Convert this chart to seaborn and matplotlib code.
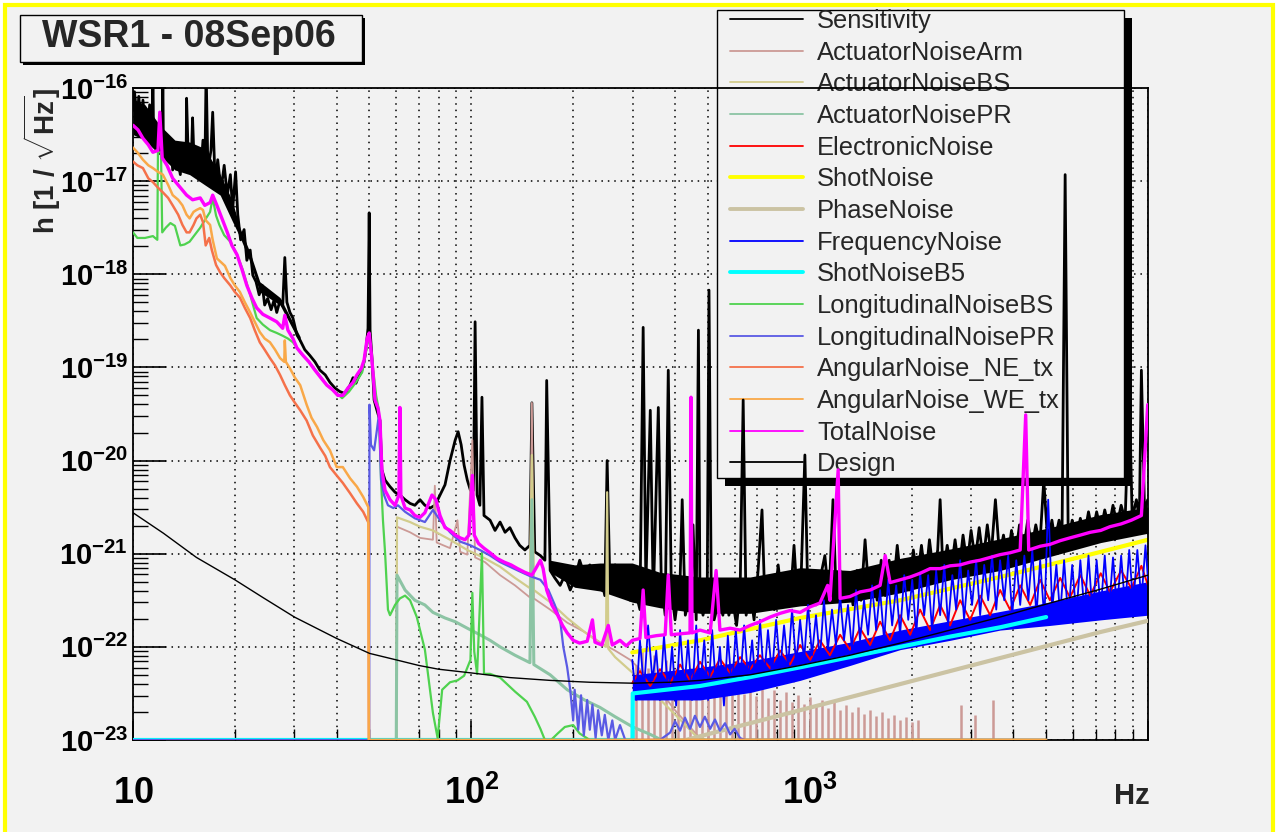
import numpy as np
import pandas as pd
import matplotlib
matplotlib.use("Agg")
import matplotlib.pyplot as plt
import seaborn as sns
from matplotlib.lines import Line2D
from matplotlib.patches import Rectangle
from matplotlib.ticker import FixedLocator, FixedFormatter, LogLocator, NullFormatter

# ---------------------------------------------------------------------------
# Spectra: (frequency [Hz], log10 of strain amplitude [1/sqrt(Hz)])
# ---------------------------------------------------------------------------
sensitivity = [
    (10.0,-16.24),(10.1,-16.04),(10.3,-16.34),(10.4,-16.09),(10.6,-16.50),(10.7,-16.13),(10.85,-16.40),
    (11.0,-16.56),(11.2,-16.18),(11.4,-16.45),(11.45,-15.8),(11.5,-16.50),(11.8,-16.67),(12.0,-16.34),
    (12.2,-16.67),(12.25,-15.8),(12.3,-16.67),(12.6,-16.77),(12.9,-16.56),(13.1,-16.88),(13.4,-16.67),
    (13.8,-16.93),(14.0,-16.61),(14.35,-16.83),(14.4,-16.11),(14.6,-16.88),(14.9,-16.67),(15.0,-16.32),
    (15.2,-16.93),(15.5,-16.72),(15.8,-16.99),(16.1,-16.56),(16.3,-16.93),(16.45,-15.8),(16.65,-16.88),
    (17.0,-16.67),(17.2,-16.26),(17.5,-17.04),(17.8,-16.77),(18.2,-17.10),(18.6,-16.83),(19.0,-17.15),
    (19.4,-16.93),(19.7,-17.31),(20.1,-16.90),(20.4,-17.36),(20.8,-17.63),(21.3,-17.52),(21.7,-17.85),
    (22.2,-17.74),(22.6,-18.01),(23.1,-18.08),(23.6,-18.22),(24.1,-18.12),(24.5,-18.33),(25.0,-18.26),
    (25.6,-18.38),(26.1,-18.28),(26.6,-18.41),(27.2,-18.28),(27.7,-18.34),(28.1,-17.82),(28.5,-18.30),
    (29.1,-18.41),(29.7,-18.47),(30.5,-18.65),(31.2,-18.71),(32.2,-18.81),(33.3,-18.87),(34.5,-18.94),
    (35.7,-19.03),(37.0,-19.08),(38.2,-19.16),(39.5,-19.22),(40.9,-19.26),(42.3,-19.28),(43.8,-19.19),
    (44.7,-19.11),(45.6,-19.17),(46.3,-19.11),(47.3,-19.05),(48.2,-18.94),(48.8,-18.81),(49.5,-18.58),
    (49.9,-17.34),(50.2,-18.60),(50.9,-18.92),(51.6,-19.35),(52.6,-19.46),(53.7,-19.57),(54.4,-20.10),
    (55.6,-20.21),(57.5,-20.28),(59.5,-20.34),(61.5,-20.37),(63.7,-20.42),(65.9,-20.46),(68.1,-20.48),
    (70.5,-20.42),(72.9,-20.48),(75.5,-20.51),(78.1,-20.48),(80.8,-20.37),(83.6,-20.26),(86.5,-20.00),
    (89.6,-19.78),(91.4,-19.69),(93.3,-19.83),(95.2,-20.05),(97.3,-20.21),(99.4,-20.32),(101.5,-20.32),
    (102.6,-18.51),(104,-20.37),(106,-20.48),(107.5,-19.32),(109,-20.59),(113.6,-20.64),(117.5,-20.75),
    (121.6,-20.66),(125.8,-20.77),(130,-20.72),(134.6,-20.83),(139,-20.91),(144,-20.96),(149,-20.91),
    (151,-19.38),(154,-20.98),(160,-21.02),(165,-21.07),(167,-19.14),(171,-21.18),(176.5,-21.26),
    (183,-21.34),(189,-21.23),(196,-21.39),(202,-21.28),(209,-21.07),(216,-21.23),(224,-21.12),
    (232,-21.34),(240,-21.18),(248,-21.45),(252,-20.00),(257,-21.39),(266,-21.12),(275,-21.45),
    (285,-21.23),(295,-21.50),(305,-21.39),(315,-21.60),(322,-18.57),(328,-21.34),(338,-19.46),
    (345,-21.50),(357,-19.43),(364,-21.23),(374,-21.66),(382,-19.03),(390,-21.39),(400,-21.71),
    (414,-21.28),(420,-20.42),(429,-21.66),(443,-21.45),(452,-20.69),(462,-21.71),(469,-18.60),
    (474,-21.50),(484,-21.66),(498,-21.39),(504,-18.17),(512,-21.50),(522,-21.71),(539,-21.50),
    (554,-21.66),(565,-21.45),(577,-21.66),(592,-21.50),(608,-21.77),(623,-21.39),(636,-19.35),
    (649,-21.66),(667,-21.39),(685,-21.71),(704,-21.18),(723,-20.53),(737,-21.50),(764,-21.34),
    (786,-21.60),(807,-21.12),(829,-21.50),(852,-21.23),(875,-21.55),(899,-20.91),(918,-21.45),
    (943,-21.28),(968,-19.94),(988,-21.50),(1016,-21.18),(1044,-21.55),(1072,-21.28),(1109,-21.02),
    (1140,-21.50),(1172,-20.42),(1196,-21.39),(1230,-21.18),(1272,-21.50),(1306,-21.23),(1343,-21.55),
    (1380,-21.18),(1418,-21.50),(1458,-20.85),(1498,-21.45),(1540,-21.23),(1583,-21.50),(1627,-21.07),
    (1672,-21.45),(1718,-21.07),(1766,-21.39),(1815,-20.91),(1866,-21.34),(1917,-21.07),(1970,-21.39),
    (2025,-20.96),(2080,-21.28),(2140,-20.91),(2200,-21.28),(2260,-20.85),(2325,-21.23),(2390,-20.96),
    (2430,-20.42),(2480,-21.23),(2550,-20.91),(2620,-21.18),(2690,-20.85),(2765,-21.18),(2840,-20.80),
    (2920,-21.12),(3000,-20.75),(3085,-21.07),(3170,-20.72),(3260,-21.07),(3350,-20.69),(3440,-21.02),
    (3540,-20.42),(3640,-21.02),(3740,-20.80),(3845,-21.07),(3950,-20.75),(4060,-21.02),(4170,-20.69),
    (4290,-20.96),(4410,-20.64),(4530,-20.94),(4660,-20.69),(4790,-20.91),(4920,-20.21),(5060,-20.91),
    (5200,-20.64),(5310,-20.85),(5460,-20.64),(5570,-20.83),(5690,-16.93),(5810,-20.85),(5970,-20.64),
    (6140,-20.85),(6310,-20.62),(6490,-20.80),(6670,-20.55),(6860,-20.77),(7050,-20.55),(7250,-20.75),
    (7450,-20.53),(7660,-20.72),(7880,-20.48),(8100,-20.69),(8330,-20.48),(8560,-20.64),(8800,-19.24),
    (8980,-20.62),(9240,-20.42),(9430,-20.62),(9560,-19.03),(9770,-20.55),(9980,-20.42),
]
# spread of the dense sensitivity trace: (Hz, upper log10, lower log10)
sensitivity_spread_low = [
    (10,-16.12,-16.50),(10.85,-16.18,-16.56),(12.0,-16.40,-16.72),(13.3,-16.56,-16.88),
    (14.7,-16.58,-16.93),(16.3,-16.65,-17.04),(18.1,-16.93,-17.15),(19.6,-17.20,-17.42),
    (20.7,-17.50,-17.60),(22.2,-17.77,-17.87),(23.7,-18.08,-18.19),(27.2,-18.25,-18.33),
    (31.2,-18.67,-18.74),
]
sensitivity_spread_high = [
    (171,-21.07,-21.20),(202,-21.12,-21.36),(240,-21.10,-21.40),(299,-21.10,-21.52),(361,-21.20,-21.58),
    (474,-21.25,-21.64),(667,-21.25,-21.64),(937,-21.15,-21.56),(1315,-21.18,-21.52),(1850,-21.05,-21.42),
    (2600,-20.95,-21.28),(3655,-20.84,-21.18),(5130,-20.72,-21.03),(7250,-20.58,-20.88),(10000,-20.50,-20.78),
]

actuator_arm = [
    (10,-23.0),(60.0,-23.0),(60.3,-20.71),(65.9,-20.77),(70.5,-20.83),(77,-20.85),(78,-20.27),(79,-20.88),
    (86.5,-20.94),(91,-20.64),(92.7,-20.98),(97.3,-21.01),(100.7,-19.78),(102.6,-21.04),(109.7,-21.09),
    (121.6,-21.23),(134.6,-21.34),(149,-21.47),(151,-19.38),(153,-21.48),(171,-21.60),(192,-21.74),
    (216,-21.84),(240,-21.95),(266,-22.04),(295,-22.14),(315,-22.24),(340,-22.36),(370,-22.52),
    (400,-22.68),(440,-22.85),(480,-23.0),(5000,-23.0),
]
actuator_arm_lines = [
    (307,-22.19),(320,-22.03),(333,-22.23),(347,-22.09),(361,-22.27),(376,-22.14),(391,-22.31),(407,-22.18),
    (424,-22.36),(443,-22.23),(462,-22.40),(481,-22.27),(501,-22.44),(522,-22.31),(543,-22.46),(566,-22.36),
    (589,-22.49),(614,-22.40),(640,-22.51),(667,-22.42),(694,-22.53),(723,-22.44),(753,-22.55),(785,-22.46),
    (818,-22.57),(852,-22.49),(887,-22.59),(925,-22.52),(963,-22.61),(1004,-22.54),(1044,-22.64),(1088,-22.57),
    (1132,-22.66),(1180,-22.59),(1230,-22.68),(1281,-22.62),(1334,-22.70),(1390,-22.65),(1448,-22.72),
    (1509,-22.68),(1572,-22.74),(1638,-22.70),(1706,-22.76),(1777,-22.73),(1850,-22.79),(1928,-22.75),
    (2010,-22.81),(2093,-22.79),(2800,-22.62),(3085,-22.73),(3490,-22.57),
]
actuator_bs = [
    (10,-23.0),(60.0,-23.0),(60.3,-20.61),(65.9,-20.66),(70.5,-20.71),(77,-20.75),(86.5,-20.85),(97.3,-20.96),
    (109.7,-21.05),(121.6,-21.14),(134.6,-21.26),(149,-21.37),(151,-19.94),(153,-21.39),(171,-21.52),
    (192,-21.69),(216,-21.84),(240,-21.96),(250,-22.0),(252,-20.34),(254,-22.02),(266,-22.11),(300,-22.28),
    (338,-22.46),(374,-22.62),(414,-22.78),(459,-22.95),(494,-23.0),(5000,-23.0),
]
actuator_pr = [
    (10,-23.0),(60.0,-23.0),(60.3,-21.23),(63.7,-21.39),(68.1,-21.50),(72.9,-21.55),(77,-21.63),(83.6,-21.69),
    (89.6,-21.73),(97.3,-21.80),(106,-21.87),(113.6,-21.93),(121.6,-22.00),(134.6,-22.09),(149,-22.17),
    (151,-20.42),(153,-22.19),(171,-22.30),(192,-22.46),(216,-22.57),(240,-22.65),(266,-22.75),(300,-22.86),
    (338,-22.94),(365,-23.0),(5000,-23.0),
]
electronic = [
    (299,-22.39),(315,-22.26),(338,-22.42),(361,-22.24),(387,-22.39),(414,-22.19),(443,-22.36),(474,-22.16),
    (508,-22.32),(543,-22.13),(582,-22.28),(623,-22.11),(667,-22.24),(713,-22.09),(764,-22.23),(818,-22.04),
    (875,-22.19),(937,-21.98),(1004,-22.14),(1072,-21.93),(1148,-22.09),(1230,-21.87),(1315,-22.03),
    (1409,-21.80),(1509,-21.98),(1615,-21.73),(1729,-21.93),(1850,-21.66),(1982,-21.87),(2120,-21.60),
    (2270,-21.82),(2430,-21.55),(2600,-21.77),(2785,-21.50),(2980,-21.71),(3190,-21.45),(3415,-21.66),
    (3655,-21.39),(3910,-21.60),(4190,-21.34),(4485,-21.55),(4800,-21.28),(5130,-21.50),(5500,-21.26),
    (5880,-21.47),(6310,-21.23),(6750,-21.45),(7250,-21.21),(7720,-21.41),(8330,-21.18),(8930,-21.37),
    (9560,-21.13),(10000,-21.34),
]
shot = [(299,-22.06),(474,-21.93),(937,-21.69),(1850,-21.50),(3655,-21.25),(7250,-20.98),(10000,-20.85)]
phase = [(338,-23.10),(474,-22.96),(937,-22.68),(1850,-22.40),(3655,-22.12),(7250,-21.84),(10000,-21.72)]
frequency = [
    (299,-22.14),(307,-22.57),(315,-21.93),(324,-22.46),(333,-21.77),(343,-22.36),(352,-22.04),(361,-22.57),
    (371,-21.88),(382,-22.52),(392,-22.00),(403,-22.63),(414,-21.82),(426,-22.46),(437,-21.93),(449,-22.57),
    (462,-21.77),(474,-22.46),(488,-21.93),(501,-22.57),(515,-21.82),(529,-22.46),(543,-22.00),(558,-22.63),
    (573,-21.88),(589,-22.46),(605,-21.82),(623,-22.41),(640,-21.77),(658,-22.36),(676,-21.93),(694,-22.46),
    (713,-21.71),(733,-22.36),(753,-21.82),(774,-22.30),(796,-21.71),(818,-22.25),(840,-21.77),(863,-22.22),
    (887,-21.60),(912,-22.19),(937,-21.71),(963,-22.14),(989,-21.55),(1016,-22.09),(1044,-21.66),(1072,-22.14),
    (1102,-21.50),(1132,-22.03),(1164,-21.60),(1196,-21.98),(1230,-21.45),(1263,-21.93),(1298,-21.55),
    (1334,-22.03),(1371,-21.39),(1409,-21.93),(1448,-21.50),(1488,-21.87),(1529,-21.34),(1572,-21.82),
    (1615,-21.39),(1660,-21.93),(1706,-21.28),(1753,-21.77),(1802,-21.34),(1850,-21.87),(1903,-21.23),
    (1956,-21.71),(2010,-21.28),(2066,-21.87),(2120,-21.20),(2180,-21.66),(2240,-21.23),(2300,-21.82),
    (2365,-21.18),(2430,-21.66),(2500,-21.12),(2565,-21.77),(2640,-21.23),(2710,-21.60),(2785,-21.07),
    (2860,-21.71),(2940,-21.18),(3020,-21.55),(3105,-21.07),(3190,-21.66),(3280,-21.12),(3370,-21.50),
    (3460,-21.02),(3560,-21.60),(3655,-21.07),(3760,-21.50),(3860,-21.02),(3970,-21.66),(4080,-21.07),
    (4190,-21.55),(4310,-21.02),(4430,-21.50),(4550,-20.96),(4680,-21.66),(4800,-21.07),(4940,-21.71),
    (5070,-20.42),(5210,-21.60),(5360,-21.12),(5500,-21.66),(5650,-21.07),(5810,-21.71),(5970,-21.12),
    (6140,-21.66),(6310,-21.07),(6490,-21.63),(6670,-21.02),(6860,-21.66),(7050,-21.07),(7250,-21.60),
    (7450,-21.02),(7660,-21.63),(7880,-21.04),(8100,-21.60),(8330,-21.02),(8560,-21.58),(8800,-20.96),
    (9040,-21.55),(9300,-20.96),(9560,-21.50),(9830,-20.91),(10000,-21.28),
]
# dense core of the frequency-noise trace: (Hz, upper log10, lower log10)
frequency_spread = [
    (299,-22.30,-22.57),(474,-22.22,-22.57),(667,-22.15,-22.49),(937,-22.05,-22.36),(1315,-21.95,-22.20),
    (1850,-21.82,-22.03),(2600,-21.72,-21.93),(3655,-21.62,-21.82),(5130,-21.52,-21.77),
    (7250,-21.40,-21.71),(10000,-21.30,-21.66),
]
shot_b5 = [(10,-23.0),(299.5,-23.0),(300,-22.50),(474,-22.42),(655,-22.33),(937,-22.22),(1315,-22.11),
           (1850,-22.00),(2600,-21.89),(3655,-21.79),(5000,-21.68)]
longitudinal_bs = [
    (10,-17.55),(10.3,-17.61),(10.85,-17.61),(11.45,-17.59),(11.8,-17.63),(11.85,-16.69),(12.1,-16.69),
    (12.2,-17.55),(12.5,-17.50),(12.9,-17.45),(13.3,-17.48),(13.8,-17.69),(14.2,-17.68),(14.7,-17.65),
    (15.2,-17.58),(15.8,-17.50),(16.3,-17.42),(16.9,-17.33),(17.2,-17.18),(17.6,-17.37),(18.0,-17.47),
    (18.6,-17.58),(19.4,-17.65),(20.3,-17.79),(21.1,-17.95),(22.2,-18.22),(23.2,-18.47),(24.2,-18.54),
    (25.4,-18.60),(26.6,-18.63),(27.7,-18.66),(28.7,-18.69),(29.7,-18.73),(31.2,-18.84),(33.1,-18.94),
    (35.2,-19.06),(37.4,-19.19),(39.5,-19.26),(41.5,-19.33),(43.5,-19.26),(45.6,-19.16),(47.6,-19.05),
    (49.2,-18.76),(49.9,-18.68),(50.9,-18.92),(52.3,-19.30),(53.3,-19.46),(54.1,-20.21),(54.8,-20.64),
    (55.6,-20.99),(56.7,-21.60),(57.5,-21.66),(59.5,-21.55),(61.5,-21.48),(63.7,-21.45),(65.9,-21.50),
    (69.0,-21.68),(72.9,-22.03),(77,-22.71),(79.5,-22.98),(82,-22.46),(86.5,-22.38),(91,-22.36),
    (95.2,-22.31),(99.4,-22.14),(100.7,-21.42),(102,-22.05),(104,-22.29),(107.5,-20.99),(109,-22.29),
    (113.6,-22.29),(121.6,-22.33),(127.5,-22.40),(134.6,-22.48),(146,-22.59),(154,-22.75),(160,-22.88),
    (165,-23.0),(172,-23.0),(180,-22.93),(189,-22.86),(200,-22.84),(209,-22.93),(224,-23.0),(5000,-23.0),
]
longitudinal_pr = [
    (10,-23.0),(49.9,-23.0),(50.0,-19.40),(50.5,-19.83),(51.6,-19.89),(52.6,-19.67),(53.3,-19.51),
    (54.1,-20.21),(55.2,-20.37),(56.7,-20.48),(58.8,-20.51),(60.7,-20.48),(63.7,-20.55),(68.1,-20.62),
    (72.9,-20.66),(77,-20.53),(80.8,-20.64),(86.5,-20.77),(92.7,-20.87),(99.4,-20.91),(106,-20.96),
    (113.6,-21.02),(121.6,-21.09),(130,-21.14),(139,-21.19),(149,-21.24),(160,-21.28),(169,-21.39),
    (176.5,-21.55),(183,-21.71),(187,-22.00),(192,-22.22),(196,-22.46),(200,-22.79),(202,-22.46),
    (207,-22.89),(211,-22.52),(215,-22.95),(220,-22.57),(224,-22.89),(228,-22.62),(233,-22.98),
    (237,-22.68),(243,-22.95),(248,-22.73),(254,-23.0),(261,-22.79),(266,-23.0),(275,-22.84),(285,-23.0),
    (361,-23.0),(387,-22.92),(400,-22.80),(414,-22.90),(428,-22.76),(443,-22.88),(458,-22.74),(474,-22.86),
    (490,-22.75),(508,-22.88),(525,-22.78),(543,-22.90),(562,-22.82),(582,-22.94),(600,-22.88),
    (623,-22.98),(645,-23.0),(5000,-23.0),
]
angular_ne = [
    (10,-16.79),(10.3,-16.83),(10.7,-16.86),(11.1,-16.97),(11.45,-17.01),(11.85,-17.07),(12.25,-17.12),
    (12.7,-17.18),(13.1,-17.26),(13.6,-17.36),(14.0,-17.47),(14.4,-17.55),(14.7,-17.55),(15.1,-17.47),
    (15.4,-17.40),(15.8,-17.36),(16.1,-17.44),(16.4,-17.69),(16.8,-17.61),(17.1,-17.74),(17.6,-17.90),
    (18.1,-17.98),(18.6,-18.04),(19.4,-18.12),(20.0,-18.19),(20.7,-18.25),(21.4,-18.36),(22.2,-18.47),
    (22.9,-18.60),(23.7,-18.73),(24.5,-18.81),(25.4,-18.90),(26.3,-18.98),(27.2,-19.08),(28.1,-19.19),
    (29.1,-19.30),(30.1,-19.38),(31.2,-19.46),(32.6,-19.57),(34.0,-19.73),(35.7,-19.86),(37.0,-19.95),
    (38.2,-20.07),(40.0,-20.16),(41.7,-20.24),(43.8,-20.35),(45.9,-20.46),(47.9,-20.55),(49.7,-20.67),
    (49.8,-23.0),(5000,-23.0),
]
angular_we = [
    (10,-16.64),(10.3,-16.69),(10.7,-16.77),(11.1,-16.83),(11.45,-16.86),(11.85,-16.90),(12.25,-16.93),
    (12.7,-17.04),(13.1,-17.15),(13.6,-17.20),(14.0,-17.26),(14.4,-17.36),(14.7,-17.40),(15.1,-17.33),
    (15.4,-17.31),(15.8,-17.29),(16.1,-17.31),(16.4,-17.42),(16.9,-17.47),(17.2,-17.63),(17.7,-17.83),
    (18.2,-17.87),(18.7,-17.91),(19.4,-18.04),(20.0,-18.12),(20.7,-18.19),(21.4,-18.30),(22.2,-18.41),
    (22.9,-18.51),(23.7,-18.62),(24.5,-18.69),(25.4,-18.73),(26.3,-18.81),(27.2,-18.90),(28.0,-18.94),
    (28.1,-18.71),(28.3,-18.94),(29.1,-19.01),(30.1,-19.11),(31.2,-19.19),(32.6,-19.40),(33.7,-19.54),
    (35.0,-19.64),(36.5,-19.78),(38.2,-19.89),(40.0,-20.07),(41.7,-20.07),(43.8,-20.19),(45.9,-20.28),
    (47.9,-20.39),(49.6,-20.50),(49.8,-23.0),(5000,-23.0),
]
total = [
    (10.0,-16.40),(10.35,-16.45),(10.7,-16.54),(11.1,-16.61),(11.45,-16.69),(11.85,-16.67),(12.0,-16.26),
    (12.2,-16.75),(12.6,-16.83),(13.1,-16.97),(13.8,-17.07),(14.4,-17.15),(15.0,-17.20),(15.8,-17.18),
    (16.3,-17.26),(16.9,-17.23),(17.2,-17.15),(17.7,-17.26),(18.4,-17.42),(19.0,-17.55),(19.6,-17.69),
    (20.3,-17.79),(21.0,-17.95),(21.7,-18.12),(22.5,-18.26),(23.2,-18.36),(24.2,-18.43),(25.4,-18.47),
    (26.6,-18.51),(27.7,-18.58),(28.1,-18.44),(28.7,-18.60),(29.7,-18.69),(30.5,-18.79),(31.8,-18.87),
    (33.1,-18.94),(34.5,-19.03),(35.9,-19.11),(37.4,-19.19),(38.9,-19.24),(40.3,-19.30),(41.7,-19.30),
    (43.2,-19.22),(44.7,-19.16),(45.9,-19.08),(47.3,-19.01),(48.2,-18.92),(49.2,-18.69),(49.9,-18.63),
    (50.5,-18.81),(51.2,-19.05),(51.9,-19.35),(53.0,-19.44),(53.7,-19.57),(54.4,-20.10),(55.6,-20.32),
    (57.5,-20.42),(59.5,-20.48),(61.1,-20.37),(61.5,-19.43),(61.9,-20.37),(63.7,-20.51),(65.9,-20.53),
    (68.1,-20.59),(70.5,-20.61),(72.9,-20.56),(74.4,-20.48),(76.5,-20.37),(78.6,-20.42),(80.8,-20.59),
    (83.6,-20.72),(86.5,-20.75),(89.6,-20.80),(92.7,-20.83),(95.8,-20.85),(98.4,-20.80),(100.7,-20.16),
    (102,-20.80),(105,-20.89),(108.9,-20.94),(113.6,-20.99),(119,-21.05),(125,-21.09),(131,-21.12),
    (137,-21.16),(144,-21.20),(151,-21.23),(155,-21.16),(160,-21.07),(163,-21.16),(167,-21.39),
    (173,-21.55),(180,-21.66),(186,-21.77),(192,-21.85),(200,-21.93),(209,-21.96),(220,-21.94),
    (228,-21.71),(232,-21.95),(243,-21.98),(254,-21.77),(261,-21.98),(275,-21.93),(287,-21.99),
    (299,-21.93),(315,-21.91),(322,-21.39),(328,-21.90),(352,-21.88),(374,-21.87),(382,-21.23),
    (390,-21.87),(414,-21.86),(443,-21.85),(446,-19.32),(449,-21.85),(474,-21.82),(508,-21.85),
    (529,-21.18),(543,-21.82),(582,-21.80),(623,-21.82),(667,-21.77),(713,-21.73),(764,-21.68),
    (818,-21.64),(875,-21.61),(937,-21.63),(1004,-21.57),(1072,-21.53),(1130,-21.34),(1148,-21.50),
    (1214,-20.10),(1230,-21.48),(1315,-21.46),(1409,-21.41),(1509,-21.39),(1615,-21.34),(1672,-21.02),
    (1729,-21.31),(1850,-21.28),(1982,-21.25),(2120,-21.21),(2270,-21.16),(2430,-21.16),(2600,-21.13),
    (2785,-21.12),(2980,-21.09),(3190,-21.07),(3415,-21.04),(3655,-21.01),(3910,-20.99),(4190,-20.96),
    (4350,-19.51),(4440,-20.96),(4800,-20.92),(5130,-20.90),(5500,-20.86),(5880,-20.83),(6310,-20.80),
    (6750,-20.77),(7250,-20.75),(7720,-20.71),(8330,-20.68),(8930,-20.64),(9560,-20.59),(9980,-19.40),
]
design = [
    (10,-20.56),(12.3,-20.78),(15.4,-21.04),(20,-21.28),(24.2,-21.47),(30,-21.68),(40,-21.91),(50,-22.07),
    (60,-22.14),(70,-22.20),(80,-22.24),(100,-22.28),(130,-22.33),(171,-22.36),(224,-22.38),(299,-22.39),
    (387,-22.38),(474,-22.36),(667,-22.30),(937,-22.20),(1315,-22.09),(1850,-21.96),(2600,-21.82),
    (3655,-21.68),(5130,-21.53),(7250,-21.38),(10000,-21.23),
]

legend_labels = ["Sensitivity", "ActuatorNoiseArm", "ActuatorNoiseBS", "ActuatorNoisePR",
                 "ElectronicNoise", "ShotNoise", "PhaseNoise", "FrequencyNoise", "ShotNoiseB5",
                 "LongitudinalNoiseBS", "LongitudinalNoisePR", "AngularNoise_NE_tx",
                 "AngularNoise_WE_tx", "TotalNoise", "Design"]
series_data = [sensitivity, actuator_arm, actuator_bs, actuator_pr, electronic, shot, phase,
               frequency, shot_b5, longitudinal_bs, longitudinal_pr, angular_ne, angular_we,
               total, design]
series_colors = ["#000000", "#cc9a96", "#d2cc8c", "#8cc4a4", "#ff0000", "#ffff00", "#cbc3a3",
                 "#0000ff", "#00ffff", "#4fd24f", "#5a5ae4", "#f5714a", "#f9a848", "#ff00ff", "#000000"]
series_widths = [2.0, 1.3, 1.6, 2.2, 1.4, 3.0, 3.0, 1.3, 3.0, 1.6, 1.6, 1.8, 1.8, 2.4, 1.0]
# drawing order: the dense frequency core sits under the electronic and shot traces
series_z = [2.0, 2.1, 2.2, 2.3, 2.45, 2.5, 2.6, 2.7, 2.8, 2.9, 3.0, 3.1, 3.2, 3.3, 3.4]
legend_widths = [1.3, 1.3, 1.3, 1.3, 1.3, 2.8, 2.8, 1.3, 2.8, 1.3, 1.3, 1.3, 1.3, 1.3, 1.3]

y_decades = np.arange(-23, -15)
x_major = [10, 100, 1000, 10000]
x_major_labels = ["$10$", "$10^{2}$", "$10^{3}$", ""]

# ---------------------------------------------------------------------------
sns.set_theme(style="ticks")
plt.rcParams["font.family"] = ["Liberation Sans", "DejaVu Sans"]
plt.rcParams["mathtext.fontset"] = "custom"
plt.rcParams["mathtext.rm"] = "Liberation Sans:bold"
plt.rcParams["mathtext.bf"] = "Liberation Sans:bold"
plt.rcParams["mathtext.it"] = "Liberation Sans:bold:italic"
plt.rcParams["mathtext.sf"] = "Liberation Sans:bold"
plt.rcParams["mathtext.default"] = "rm"

W, H = 1278, 832
BG = "#f2f2f2"
fig = plt.figure(figsize=(W / 100, H / 100), dpi=100)
fig.patch.set_facecolor("white")

def fx(px):
    return px / W

def fy(py):
    return 1 - py / H

# canvas frame
fig.add_artist(Rectangle((fx(5), -0.02), fx(1268), 1 - 5 / H + 0.02, transform=fig.transFigure,
                         facecolor=BG, edgecolor="#ffff00", lw=3, zorder=-5))

ax = fig.add_axes([fx(133), fy(740), fx(1015), 652 / H])
ax.set_facecolor(BG)
ax.set_xscale("log")
ax.set_yscale("log")

def spread(rows, color, z):
    arr = np.asarray(rows, dtype=float)
    ax.fill_between(arr[:, 0], 10.0 ** arr[:, 2], 10.0 ** arr[:, 1], color=color, lw=0, zorder=z)

spread(sensitivity_spread_low, "black", 2.0)
spread(sensitivity_spread_high, "black", 2.0)
spread(frequency_spread, "#0000ff", 2.4)

for pairs, col, lw, z in zip(series_data, series_colors, series_widths, series_z):
    arr = np.asarray(pairs, dtype=float)
    df = pd.DataFrame({"hz": arr[:, 0], "h": 10.0 ** arr[:, 1]})
    sns.lineplot(data=df, x="hz", y="h", ax=ax, color=col, lw=lw, estimator=None,
                 sort=False, legend=False, zorder=z)
    if pairs is actuator_arm:
        comb = np.asarray(actuator_arm_lines, dtype=float)
        ax.vlines(comb[:, 0], 1e-23, 10.0 ** comb[:, 1], colors=col, lw=1.8, zorder=z)

ax.set_xlim(10, 10000)
ax.set_ylim(1e-23, 1e-16)
ax.set_xlabel("")
ax.set_ylabel("")

ax.xaxis.set_major_locator(FixedLocator(x_major))
ax.xaxis.set_major_formatter(FixedFormatter(x_major_labels))
ax.xaxis.set_minor_locator(LogLocator(base=10, subs=np.arange(2, 10), numticks=100))
ax.xaxis.set_minor_formatter(NullFormatter())
ax.yaxis.set_major_locator(FixedLocator(10.0 ** y_decades))
ax.yaxis.set_major_formatter(FixedFormatter([f"$10^{{{d}}}$" for d in y_decades]))
ax.yaxis.set_minor_locator(LogLocator(base=10, subs=np.arange(2, 10), numticks=100))
ax.yaxis.set_minor_formatter(NullFormatter())

ax.tick_params(axis="both", which="both", direction="in", colors="black", top=False, right=False)
ax.tick_params(axis="y", which="major", length=24, width=1.2, pad=3.5, labelsize=21)
ax.tick_params(axis="y", which="minor", length=11, width=1.0)
ax.tick_params(axis="x", which="major", length=14, width=1.2, pad=26, labelsize=26)
ax.tick_params(axis="x", which="minor", length=8, width=1.0)

ax.set_axisbelow(True)
ax.grid(True, which="major", axis="both", color="black", linestyle=(0, (1, 3.2)), lw=1.1)
ax.grid(True, which="minor", axis="x", color="black", linestyle=(0, (1, 3.2)), lw=1.1)
for sp in ax.spines.values():
    sp.set_color("black")
    sp.set_linewidth(1.3)

# legend box with drop shadow, kept beneath the curves
shadow = Rectangle((fx(725), fy(486)), fx(1132 - 725), (486 - 18) / H, transform=fig.transFigure,
                   facecolor="black", edgecolor="none", zorder=1.5)
frame = Rectangle((fx(717), fy(478)), fx(1124 - 717), (478 - 10) / H, transform=fig.transFigure,
                  facecolor=BG, edgecolor="black", lw=1.0, zorder=1.55)
for p in (shadow, frame):
    ax.add_artist(p)
    p.set_clip_on(False)

handles = [Line2D([], [], color=c, lw=w) for c, w in zip(series_colors, legend_widths)]
leg = ax.legend(handles, legend_labels, loc="upper left", bbox_to_anchor=(fx(730), fy(9)),
                bbox_transform=fig.transFigure, frameon=False, borderpad=0, borderaxespad=0,
                handlelength=2.85, handletextpad=0.55, labelspacing=0.30,
                prop={"family": "Liberation Sans", "size": 18.4})
leg.set_zorder(1.6)

# title box
fig.add_artist(Rectangle((fx(23), fy(65)), fx(342), 47 / H, transform=fig.transFigure,
                         facecolor="black", edgecolor="none", zorder=5))
fig.add_artist(Rectangle((fx(20), fy(62)), fx(342), 47 / H, transform=fig.transFigure,
                         facecolor=BG, edgecolor="black", lw=1.0, zorder=5.1))
fig.text(fx(42), fy(47), "WSR1 - 08Sep06", fontsize=27, fontweight="bold", ha="left",
         va="baseline", zorder=6)

# axis titles
fig.text(fx(42), fy(88), r"h [1 / $\sqrt{\mathrm{Hz}}$]", rotation=90, ha="center", va="top",
         fontsize=20, fontweight="bold")
fig.text(fx(1150), fy(804), "Hz", ha="right", va="baseline", fontsize=21, fontweight="bold")

fig.savefig("out.png", dpi=100, facecolor=fig.get_facecolor())
